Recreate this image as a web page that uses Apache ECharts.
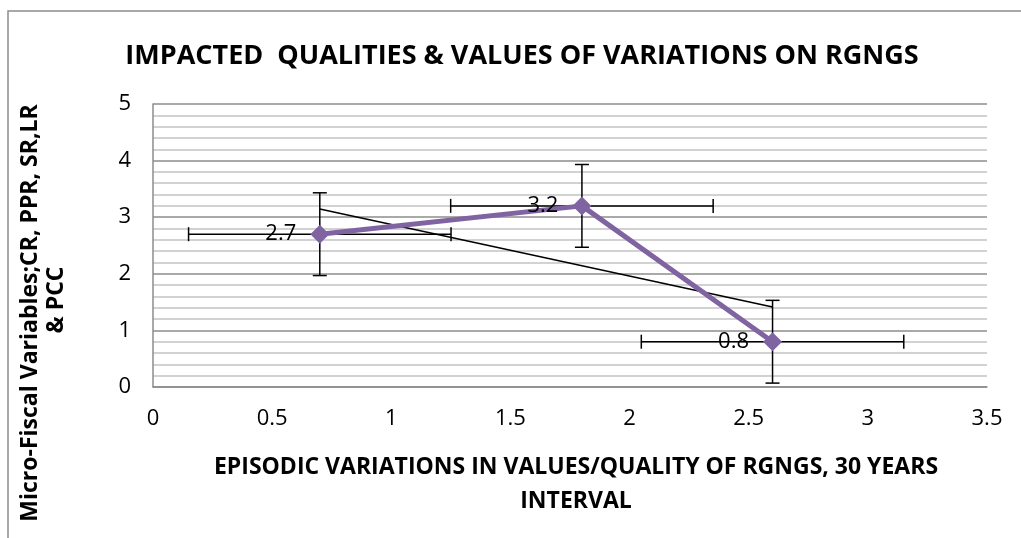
<!DOCTYPE html>
<html>
<head>
<meta charset="utf-8">
<script src="https://cdn.jsdelivr.net/npm/echarts@6/dist/echarts.min.js"></script>
<style>
  html, body { margin: 0; padding: 0; background: #fff; }
  #chart { width: 1021px; height: 538px; }
</style>
</head>
<body>
<div id="chart"></div>
<script>
// values
const xValues = [0.7, 1.8, 2.6];
const yValues = [2.7, 3.2, 0.8];

const FONT = '"Open Sans", "DejaVu Sans", sans-serif';

// Excel-style "standard error" bars and linear trendline, derived from the data
const mean = (arr) => arr.reduce((a, b) => a + b, 0) / arr.length;
const stdErr = (arr) => {
  const m = mean(arr);
  const v = arr.reduce((s, d) => s + (d - m) * (d - m), 0) / (arr.length - 1);
  return Math.sqrt(v) / Math.sqrt(arr.length);
};
const errX = stdErr(xValues);
const errY = stdErr(yValues);

const mx = mean(xValues);
const my = mean(yValues);
let sxy = 0, sxx = 0;
xValues.forEach((x, i) => {
  sxy += (x - mx) * (yValues[i] - my);
  sxx += (x - mx) * (x - mx);
});
const slope = sxy / sxx;
const intercept = my - slope * mx;
const trendX = [xValues[0], xValues[xValues.length - 1]];

const points = xValues.map((x, i) => [x, yValues[i]]);
const errData = xValues.map((x, i) => [x, yValues[i], errX, errY]);
const trendData = trendX.map((x) => [x, intercept + slope * x]);

const chart = echarts.init(document.getElementById('chart'));

const option = {
  backgroundColor: '#fff',
  animation: false,
  title: {
    text: 'IMPACTED  QUALITIES & VALUES OF VARIATIONS ON RGNGS',
    left: 517,
    top: 38,
    textAlign: 'center',
    textStyle: {
      fontFamily: FONT,
      fontWeight: 'bold',
      fontSize: 27,
      color: '#000',
    },
  },
  grid: {
    left: 153,
    right: 34,
    top: 104,
    bottom: 151,
  },
  xAxis: {
    type: 'value',
    min: 0,
    max: 3.5,
    interval: 0.5,
    axisLine: { show: true, onZero: false, lineStyle: { color: '#8c8c8c', width: 1.5 } },
    axisTick: { show: false },
    splitLine: { show: false },
    axisLabel: {
      fontFamily: FONT,
      fontSize: 22,
      color: '#000',
      margin: 21,
    },
  },
  yAxis: {
    type: 'value',
    min: 0,
    max: 5,
    interval: 1,
    axisLine: { show: true, lineStyle: { color: '#8c8c8c', width: 1.5 } },
    axisTick: { show: false },
    splitLine: { show: true, lineStyle: { color: '#8c8c8c', width: 1.5 } },
    minorTick: { show: false, splitNumber: 5 },
    minorSplitLine: { show: true, lineStyle: { color: '#c4c4c4', width: 1.5 } },
    axisLabel: {
      fontFamily: FONT,
      fontSize: 22,
      color: '#000',
      margin: 22,
    },
  },
  graphic: [
    {
      type: 'rect',
      silent: true,
      shape: { x: 8, y: 11, width: 1100, height: 600 },
      style: { fill: 'none', stroke: '#8c8c8c', lineWidth: 1.5 },
    },
    {
      type: 'text',
      x: 576,
      y: 467,
      style: {
        text: 'EPISODIC VARIATIONS IN VALUES/QUALITY OF RGNGS, 30 YEARS',
        font: 'bold 23px ' + FONT,
        fill: '#000',
        align: 'center',
        verticalAlign: 'middle',
      },
    },
    {
      type: 'text',
      x: 576,
      y: 501,
      style: {
        text: 'INTERVAL',
        font: 'bold 23px ' + FONT,
        fill: '#000',
        align: 'center',
        verticalAlign: 'middle',
      },
    },
    {
      type: 'text',
      x: 30,
      y: 313,
      rotation: Math.PI / 2,
      style: {
        text: 'Micro-Fiscal Variables;CR, PPR, SR,LR',
        font: 'bold 23px ' + FONT,
        fill: '#000',
        align: 'center',
        verticalAlign: 'middle',
      },
    },
    {
      type: 'text',
      x: 56,
      y: 300,
      rotation: Math.PI / 2,
      style: {
        text: '& PCC',
        font: 'bold 23px ' + FONT,
        fill: '#000',
        align: 'center',
        verticalAlign: 'middle',
      },
    },
  ],
  series: [
    {
      type: 'custom',
      name: 'errors',
      z: 2,
      data: errData,
      renderItem: (params, api) => {
        const x = api.value(0);
        const y = api.value(1);
        const ex = api.value(2);
        const ey = api.value(3);
        const l = api.coord([x - ex, y]);
        const r = api.coord([x + ex, y]);
        const t = api.coord([x, y + ey]);
        const b = api.coord([x, y - ey]);
        const cap = 7;
        const st = { stroke: '#000', lineWidth: 1.5 };
        const seg = (x1, y1, x2, y2) => ({ type: 'line', shape: { x1, y1, x2, y2 }, style: st });
        return {
          type: 'group',
          children: [
            seg(l[0], l[1], r[0], r[1]),
            seg(l[0], l[1] - cap, l[0], l[1] + cap),
            seg(r[0], r[1] - cap, r[0], r[1] + cap),
            seg(t[0], t[1], b[0], b[1]),
            seg(t[0] - cap, t[1], t[0] + cap, t[1]),
            seg(b[0] - cap, b[1], b[0] + cap, b[1]),
          ],
        };
      },
    },
    {
      type: 'line',
      name: 'trend',
      z: 3,
      data: trendData,
      symbol: 'none',
      lineStyle: { color: '#000', width: 1.5 },
    },
    {
      type: 'line',
      name: 'values',
      z: 4,
      data: points,
      symbol: 'diamond',
      symbolSize: 19,
      itemStyle: { color: '#8064A2' },
      lineStyle: { color: '#8064A2', width: 5 },
      label: {
        show: true,
        position: 'left',
        distance: 14,
        fontFamily: FONT,
        fontSize: 22,
        color: '#000',
        formatter: (p) => String(p.value[1]),
      },
    },
  ],
};

chart.setOption(option);
</script>
</body>
</html>
